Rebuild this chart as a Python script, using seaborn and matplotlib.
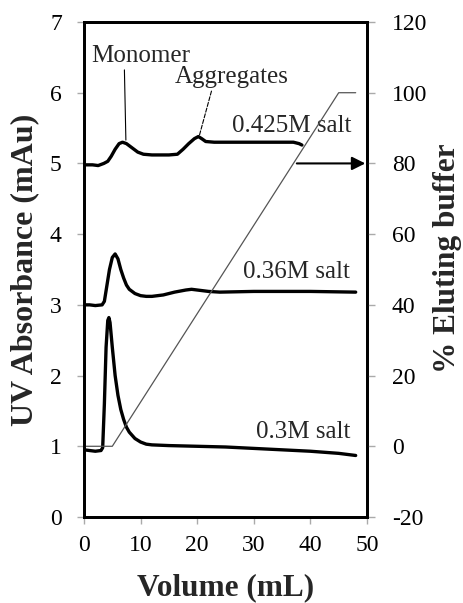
import matplotlib
matplotlib.use("Agg")
import matplotlib.pyplot as plt
import seaborn as sns
import pandas as pd

# ---- data ----
vol_03 = [0, 1, 2, 3.0, 3.3, 3.6, 3.9, 4.2, 4.4, 4.6, 5.0, 5.5, 6.0, 6.5, 7.0, 7.5, 8.0, 9.0, 10, 11, 12, 15, 20, 25, 30, 35, 40, 45, 48]
abs_03 = [0.95, 0.94, 0.93, 0.94, 0.98, 1.6, 2.4, 2.78, 2.82, 2.75, 2.4, 2.0, 1.72, 1.52, 1.38, 1.27, 1.2, 1.11, 1.06, 1.03, 1.02, 1.01, 1.0, 0.99, 0.97, 0.95, 0.93, 0.9, 0.87]

vol_036 = [0, 1, 2, 3.2, 3.6, 4.0, 4.5, 5.0, 5.5, 6.0, 6.5, 7.0, 7.5, 8.0, 9.0, 10, 11, 12, 14, 16, 18, 19, 20, 22, 24, 30, 40, 48]
abs_036 = [3.0, 3.0, 2.99, 3.0, 3.05, 3.25, 3.5, 3.67, 3.72, 3.65, 3.5, 3.38, 3.28, 3.22, 3.16, 3.13, 3.12, 3.12, 3.14, 3.18, 3.21, 3.22, 3.21, 3.19, 3.18, 3.19, 3.19, 3.18]

vol_0425 = [0, 1.5, 2.5, 3.5, 4.2, 4.8, 5.5, 6.2, 6.8, 7.5, 8.5, 9.5, 10.5, 12, 15, 16.5, 17.5, 18.5, 19.5, 20.2, 20.8, 21.5, 23, 25, 30, 35, 37, 38, 38.5]
abs_0425 = [4.98, 4.98, 4.97, 5.0, 5.03, 5.1, 5.2, 5.28, 5.3, 5.28, 5.22, 5.16, 5.13, 5.12, 5.12, 5.13, 5.2, 5.28, 5.35, 5.38, 5.35, 5.31, 5.3, 5.3, 5.3, 5.3, 5.3, 5.28, 5.26]

grad_vol = [0, 5, 45, 48]
grad_pct = [0, 0, 100, 100]

series_labels = ["0.3M salt", "0.36M salt", "0.425M salt"]

# ---- style ----
sns.set_style("ticks")
plt.rcParams["font.family"] = ["Liberation Serif", "DejaVu Serif"]
plt.rcParams["axes.unicode_minus"] = False

fig = plt.figure(figsize=(4.64, 6.03), dpi=100)
ax = fig.add_axes([84 / 464, 1 - 517 / 603, 283 / 464, 495 / 603])
ax2 = ax.twinx()

df = pd.concat([
    pd.DataFrame({"vol": vol_03, "abs": abs_03, "s": series_labels[0]}),
    pd.DataFrame({"vol": vol_036, "abs": abs_036, "s": series_labels[1]}),
    pd.DataFrame({"vol": vol_0425, "abs": abs_0425, "s": series_labels[2]}),
])
sns.lineplot(data=df, x="vol", y="abs", units="s", estimator=None, sort=False,
             color="black", lw=2.4, ax=ax, legend=False)

sns.lineplot(x=grad_vol, y=grad_pct, color="#555555", lw=0.9, ax=ax2,
             estimator=None, sort=False, legend=False)

ax.set_xlim(0, 50)
ax.set_ylim(0, 7)
ax2.set_ylim(-20, 120)
ax.set_xticks(range(0, 51, 10))
ax.set_yticks(range(0, 8))
ax2.set_yticks(range(-20, 121, 20))

for a in (ax, ax2):
    for sp in a.spines.values():
        sp.set_linewidth(2.0)
        sp.set_color("black")
ax.tick_params(axis="both", colors="#aaaaaa", labelcolor="black", labelsize=17,
               length=5, width=1, direction="out")
ax.tick_params(axis="y", pad=11)
ax.tick_params(axis="x", pad=8)
ax2.tick_params(axis="y", colors="#aaaaaa", labelcolor="black", labelsize=17,
                length=6, width=1, direction="out", pad=12)

ax.set_xlabel("Volume (mL)", fontsize=22.5, fontweight="bold", va="center")
ax.xaxis.set_label_coords(0.5, -0.142)
ax.set_ylabel("UV Absorbance (mAu)", fontsize=23, fontweight="bold", va="center")
ax.yaxis.set_label_coords(-0.208, 0.5)
ax2.set_ylabel("% Eluting buffer", fontsize=22.5, fontweight="bold", va="center", rotation=90)
ax2.yaxis.set_label_coords(1.286, 0.523)

# series labels
ax.text(26.1, 5.45, series_labels[2], fontsize=18, ha="left", va="baseline")
ax.text(47.0, 3.38, series_labels[1], fontsize=18, ha="right", va="baseline")
ax.text(47.0, 1.12, series_labels[0], fontsize=18, ha="right", va="baseline")

# peak annotations
ax.annotate("Monomer", xy=(7.4, 5.33), xytext=(10.1, 6.44), fontsize=18,
            ha="center", va="baseline",
            arrowprops=dict(arrowstyle="-", color="black", lw=0.8,
                            shrinkA=0, shrinkB=0, relpos=(0.33, 0.0)))
ax.annotate("Aggregates", xy=(20.4, 5.40), xytext=(26.1, 6.14), fontsize=18,
            ha="center", va="baseline",
            arrowprops=dict(arrowstyle="-", color="black", lw=0.8, ls="--",
                            shrinkA=0, shrinkB=0, relpos=(0.33, 0.0)))

# arrow pointing to right axis
ax2.annotate("", xy=(49.7, 80), xytext=(37.6, 80),
             arrowprops=dict(arrowstyle="-|>", color="black", lw=1.5,
                             mutation_scale=20, shrinkA=0, shrinkB=0))

fig.savefig("out.png", dpi=100)
